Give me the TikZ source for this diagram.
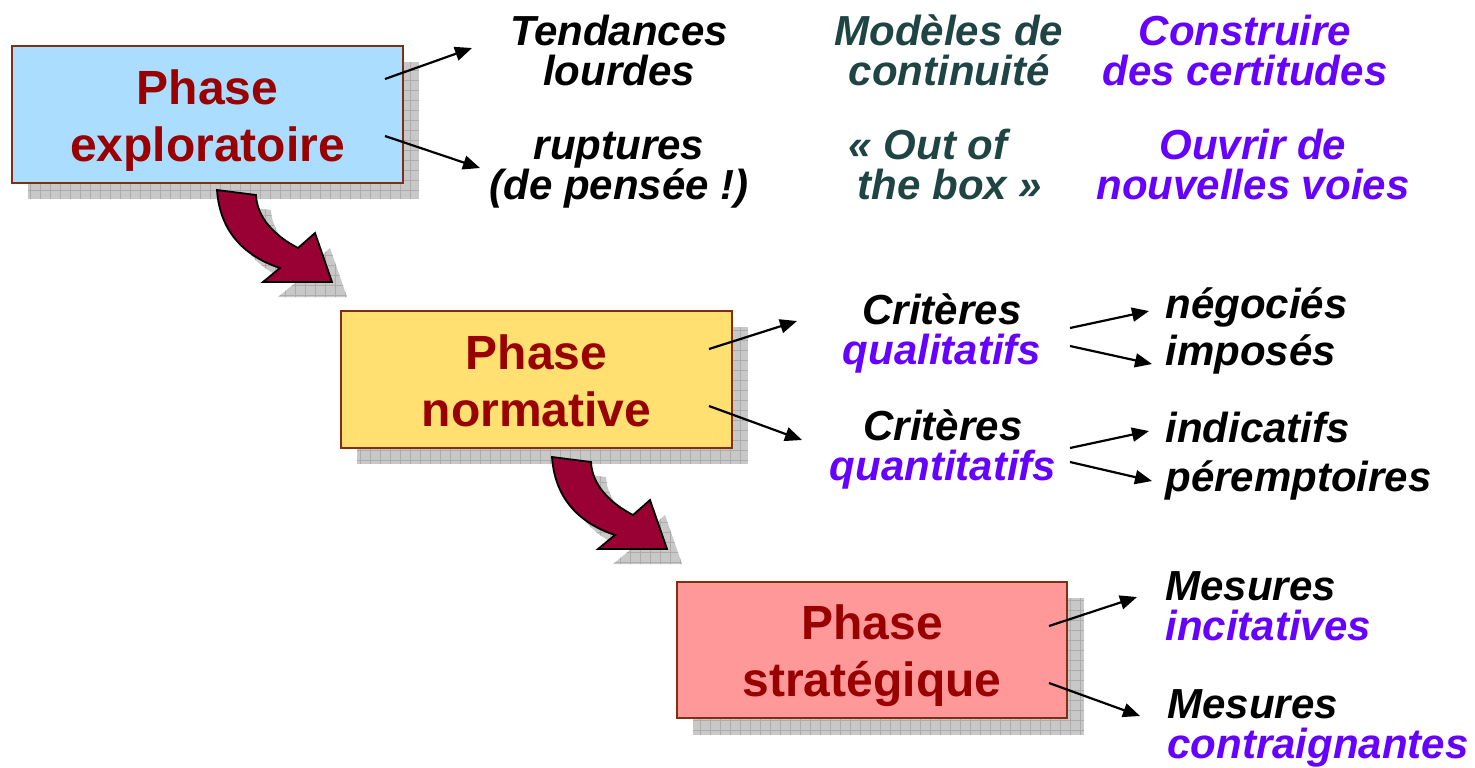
\documentclass[tikz,border=0pt]{standalone}
\usepackage{fontspec}
\setmainfont{Liberation Sans}
\usetikzlibrary{arrows.meta,calc}
\definecolor{boxred}{RGB}{153,0,0}
\definecolor{tealtxt}{RGB}{31,68,68}
\definecolor{purp}{RGB}{102,0,255}
\definecolor{bluefill}{RGB}{170,221,255}
\definecolor{yelfill}{RGB}{255,224,112}
\definecolor{pinkfill}{RGB}{255,153,153}
\definecolor{edgebrown}{RGB}{128,48,16}
\definecolor{arrowred}{RGB}{153,0,51}
\definecolor{shadowgray}{RGB}{200,200,200}
\definecolor{gridgray}{RGB}{172,172,172}
\newcommand\myshadowrect[2]{%
  \begin{scope}
    \clip #1 rectangle #2;
    \fill[shadowgray] #1 rectangle #2;
    \draw[gridgray, line width=0.4pt, step=5pt] #1 grid #2;
  \end{scope}}
\newcommand\mycurvepath{(217,190) .. controls (220,234) and (247,257) .. (280,268) -- (263,282) -- (332,282) -- (315,233) -- (298,248) .. controls (275,236) and (257,218) .. (256,195) -- cycle}
\newcommand\mycurvearrow[1]{%
  \begin{scope}[shift={#1}]
    \begin{scope}[shift={(15,15)}]
      \clip \mycurvepath;
      \fill[shadowgray] (200,180) rectangle (360,310);
      \draw[gridgray, line width=0.4pt, step=5pt] (200,180) grid (360,310);
    \end{scope}
    \filldraw[fill=arrowred, draw=black, line width=0.9pt, line join=miter] \mycurvepath;
  \end{scope}}
\begin{document}
\begin{tikzpicture}[x=0.5pt,y=-0.5pt,
  phase/.style={draw=edgebrown, line width=1pt, minimum width=195.5pt, minimum height=68.5pt,
    inner sep=0pt, align=center, text=boxred, font=\fontsize{24}{28.5}\selectfont\bfseries},
  note/.style={inner sep=0pt, align=center, font=\fontsize{21}{20}\selectfont\bfseries\itshape},
  notel/.style={note, align=left},
  conn/.style={-{Triangle[length=8.5pt,width=7pt]}, line width=1.1pt},
]
\useasboundingbox (0,0) rectangle (1475,767);
\fill[white] (0,0) rectangle (1475,767);

% shadows of the boxes
\myshadowrect{(28,62)}{(419,199)}
\myshadowrect{(357,327)}{(748,464)}
\myshadowrect{(693,598)}{(1084,735)}

% phase boxes
\node[phase, fill=bluefill] (b1) at (207.5,114.5)
  {\rule{0pt}{23.5pt}Phase\\exploratoire\rule[-5pt]{0pt}{5pt}};
\node[phase, fill=yelfill] (b2) at (536.5,379.5)
  {\rule{0pt}{23.5pt}Phase\\normative\rule[-5pt]{0pt}{5pt}};
\node[phase, fill=pinkfill, minimum width=195pt, minimum height=68pt] (b3) at (872,650)
  {\rule{0pt}{23.5pt}Phase\\stratégique\rule[-5pt]{0pt}{5pt}};

% curved arrows between phases
\mycurvearrow{(0,0)}
\mycurvearrow{(335,267)}

% texts, top rows
\node[note, anchor=north] (tend) at (619,15) {Tendances\\lourdes};
\node[note, anchor=north, text=tealtxt] (mod) at (949,14) {Modèles de\\continuité};
\node[note, anchor=north, text=purp] (cons) at (1245,15) {Construire\\des certitudes};
\node[note, anchor=north] (rupt) at (619,132) {ruptures\\(de pensée !)};
\node[note, anchor=north, text=tealtxt] (oob) at (939,129) {« Out of\kern11pt\\\kern11pt the box »};
\node[note, anchor=north, text=purp] (ouv) at (1253,129) {Ouvrir de\\nouvelles voies};

% criteria
\node[note, anchor=north] (cq1) at (942,293) {Critères\\\textcolor{purp}{qualitatifs}};
\node[note, anchor=north] (cq2) at (943,409) {Critères\\\textcolor{purp}{quantitatifs}};
\node[note, anchor=base west] (neg) at (1165,318) {négociés};
\node[note, anchor=base west] (imp) at (1165,365) {imposés};
\node[note, anchor=base west] (ind) at (1165,442) {indicatifs};
\node[note, anchor=base west] (per) at (1165,491) {péremptoires};

% measures
\node[notel, anchor=north west] (mes1) at (1165,571) {Mesures\\\textcolor{purp}{incitatives}};
\node[notel, anchor=north west] (mes2) at (1167,689) {Mesures\\\textcolor{purp}{contraignantes}};

% connector end points
\coordinate (e1) at (472,48);
\coordinate (e2) at (480,168);
\coordinate (e3) at (797,321);
\coordinate (e4) at (802,440);
\coordinate (s5) at (1070,328); \coordinate (e5) at (1149,311);
\coordinate (s6) at (1070,346); \coordinate (e6) at (1152,364);
\coordinate (s7) at (1070,448); \coordinate (e7) at (1149,431);
\coordinate (s8) at (1070,462); \coordinate (e8) at (1152,481);
\coordinate (e9) at (1137,597);
\coordinate (e10) at (1140,716);

\draw[conn] ($(b1.north east)+(-19,34)$) -- (e1);
\draw[conn] ($(b1.north east)+(-19,91)$) -- (e2);
\draw[conn] ($(b2.north east)+(-24,39)$) -- (e3);
\draw[conn] ($(b2.north east)+(-24,96)$) -- (e4);
\draw[conn] (s5) -- (e5);
\draw[conn] (s6) -- (e6);
\draw[conn] (s7) -- (e7);
\draw[conn] (s8) -- (e8);
\draw[conn] ($(b3.north east)+(-19,45)$) -- (e9);
\draw[conn] ($(b3.north east)+(-19,102)$) -- (e10);
\end{tikzpicture}
\end{document}
